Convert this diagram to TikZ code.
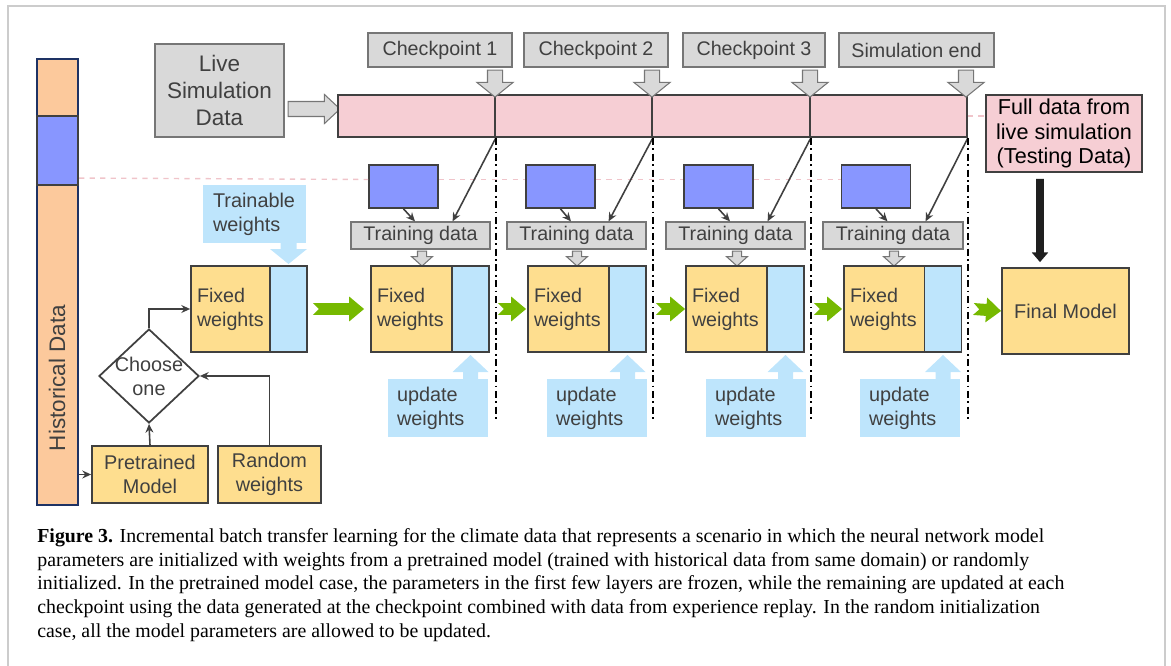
\documentclass[tikz,border=0pt]{standalone}
\usepackage{fontspec}
\setmainfont{Liberation Sans}
\newfontfamily\capfont{Liberation Serif}
\usetikzlibrary{shapes.geometric,shapes.arrows,arrows.meta}

\definecolor{txtgray}{RGB}{64,64,64}
\definecolor{boxfill}{RGB}{217,217,217}
\definecolor{boxline}{RGB}{118,118,118}
\definecolor{barpink}{RGB}{246,206,212}
\definecolor{historange}{RGB}{252,201,156}
\definecolor{histline}{RGB}{30,50,100}
\definecolor{datablue}{RGB}{136,150,255}
\definecolor{fixyellow}{RGB}{254,222,143}
\definecolor{trainblue}{RGB}{190,229,252}
\definecolor{arrgreen}{RGB}{118,185,0}
\definecolor{framegray}{RGB}{204,204,204}
\definecolor{dashpink}{RGB}{240,196,202}

\begin{document}
\begin{tikzpicture}[x=0.02cm,y=-0.02cm]
\tikzstyle{graybox}=[draw=boxline,fill=boxfill,line width=0.7pt,text=txtgray,inner sep=0,font=\fontsize{11.2}{13.6}\selectfont];
\tikzstyle{segbox}=[draw=txtgray,fill=barpink,line width=1pt,inner sep=0,minimum height=0.84cm];
\tikzstyle{datbox}=[draw=txtgray,fill=datablue,line width=1pt,inner sep=0,minimum width=1.38cm,minimum height=0.86cm];
\tikzstyle{fixbox}=[draw=txtgray,fill=fixyellow,line width=1pt,inner xsep=0.12cm,text width=1.38cm,minimum height=1.72cm,align=left,text=txtgray,font=\fontsize{11.2}{13.6}\selectfont];
\tikzstyle{trnbox}=[draw=txtgray,fill=trainblue,line width=1pt,inner sep=0,minimum width=0.74cm,minimum height=1.72cm];
\tikzstyle{yelbox}=[draw=txtgray,fill=fixyellow,line width=1pt,inner sep=0,align=center,text=txtgray,font=\fontsize{11.3}{14}\selectfont];
\tikzstyle{callout}=[fill=trainblue,inner xsep=0.18cm,text width=1.64cm,minimum height=1.16cm,align=left,text=txtgray,font=\fontsize{11.3}{13.8}\selectfont];
\tikzstyle{grayarr}=[single arrow,draw=boxline,fill=boxfill,line width=0.6pt,inner xsep=0];
\tikzstyle{conn}=[draw=txtgray,line width=0.9pt,-{Stealth[length=5pt,width=4.5pt]}];
\tikzstyle{cut}=[line width=1.2pt,dash pattern=on 4pt off 2pt on 1pt off 2pt];
\tikzstyle{greenarr}=[draw=arrgreen,line width=6.8pt,{Triangle Cap[reversed]}-{Triangle[length=8.5pt,width=13.6pt]}];
\tikzstyle{pinkdash}=[draw=dashpink,line width=0.8pt,dashed];
\tikzstyle{captxt}=[anchor=north west,inner sep=0,align=left,font=\capfont\fontsize{11.3}{13.5}\selectfont];

\useasboundingbox (0,0) rectangle (1171,666);
\draw [framegray,line width=1.1pt] (8,672) -- (8,6) -- (1165,6) -- (1165,672);

\node [draw=histline,fill=historange,line width=1pt,inner sep=0,minimum width=0.82cm,minimum height=8.92cm] (hist) at (57.5,282) {};
\node [draw=txtgray,fill=datablue,line width=1.2pt,inner sep=0,minimum width=0.82cm,minimum height=1.38cm] (histsel) at (57.5,150.5) {};
\node [rotate=90,text=txtgray,font=\fontsize{12.8}{15}\selectfont] (histtxt) at (57,378) {Historical Data};

\node [graybox,minimum width=2.58cm,minimum height=1.86cm,align=center,font=\fontsize{12.8}{15.3}\selectfont] (live) at (219.5,90.5) {Live\\Simulation\\Data};
\node [grayarr,inner ysep=0.14cm,minimum height=1.04cm,single arrow head extend=0.14cm,single arrow tip angle=86] (livearr) at (310,109) {};

\node [segbox,minimum width=3.14cm] (seg1) at (416.5,116) {};
\node [segbox,minimum width=3.14cm] (seg2) at (573.5,116) {};
\node [segbox,minimum width=3.16cm] (seg3) at (731,116) {};
\node [segbox,minimum width=3.14cm] (seg4) at (888.5,116) {};

\node [graybox,minimum width=2.88cm,minimum height=0.68cm] (cp1) at (440,50) {Checkpoint 1};
\node [graybox,minimum width=2.88cm,minimum height=0.68cm] (cp2) at (596,50) {Checkpoint 2};
\node [graybox,minimum width=2.84cm,minimum height=0.68cm] (cp3) at (754,50) {Checkpoint 3};
\node [graybox,minimum width=3.1cm,minimum height=0.68cm] (cp4) at (916.5,50) {Simulation end};

\node [grayarr,rotate=-90,inner ysep=0.14cm,minimum height=0.54cm,single arrow head extend=0.21cm,single arrow tip angle=102] (cparr1) at (495,80.5) {};
\node [grayarr,rotate=-90,inner ysep=0.14cm,minimum height=0.54cm,single arrow head extend=0.21cm,single arrow tip angle=102] (cparr2) at (652,80.5) {};
\node [grayarr,rotate=-90,inner ysep=0.14cm,minimum height=0.54cm,single arrow head extend=0.21cm,single arrow tip angle=102] (cparr3) at (810,80.5) {};
\node [grayarr,rotate=-90,inner ysep=0.14cm,minimum height=0.54cm,single arrow head extend=0.21cm,single arrow tip angle=102] (cparr4) at (966,80.5) {};

\node [draw=txtgray,fill=barpink,line width=1pt,inner sep=0,minimum width=3.12cm,minimum height=1.54cm,align=center,font=\fontsize{12.3}{13.9}\selectfont] (full) at (1064,133.5) {Full data from\\live simulation\\(Testing Data)};
\draw [pinkdash] (seg4.east) -- (seg4.east -| full.west);

\node [datbox] (dat1) at (403.5,186.5) {};
\node [datbox] (dat2) at (560.5,186.5) {};
\node [datbox] (dat3) at (718.5,186.5) {};
\node [datbox] (dat4) at (876,186.5) {};
\draw [pinkdash] ([yshift=0.16cm]histsel.south east) -- ([yshift=0.14cm]dat1.west);
\draw [pinkdash] ([yshift=0.14cm]dat1.east) -- ([yshift=0.14cm]dat2.west);
\draw [pinkdash] ([yshift=0.14cm]dat2.east) -- ([yshift=0.14cm]dat3.west);
\draw [pinkdash] ([yshift=0.14cm]dat3.east) -- ([yshift=0.14cm]dat4.west);

\node [graybox,minimum width=2.78cm,minimum height=0.54cm] (td1) at (420.5,235.5) {Training data};
\node [graybox,minimum width=2.78cm,minimum height=0.54cm] (td2) at (576.5,235.5) {Training data};
\node [graybox,minimum width=2.78cm,minimum height=0.54cm] (td3) at (735.5,235.5) {Training data};
\node [graybox,minimum width=2.8cm,minimum height=0.54cm] (td4) at (893,235.5) {Training data};

\draw [conn] (dat1.south) -- ([xshift=-0.11cm]td1.north);
\draw [conn] (dat2.south) -- ([xshift=-0.11cm]td2.north);
\draw [conn] (dat3.south) -- ([xshift=-0.11cm]td3.north);
\draw [conn] (dat4.south) -- ([xshift=-0.11cm]td4.north);
\draw [conn] (seg1.south east) -- ([xshift=-0.76cm]td1.north east);
\draw [conn] (seg2.south east) -- ([xshift=-0.76cm]td2.north east);
\draw [conn] (seg3.south east) -- ([xshift=-0.76cm]td3.north east);
\draw [conn] (seg4.south east) -- ([xshift=-0.76cm]td4.north east);

\draw [cut] (seg1.south east) -- ++(0,283);
\draw [cut] (seg2.south east) -- ++(0,283);
\draw [cut] (seg3.south east) -- ++(0,283);
\draw [cut] (seg4.south east) -- ++(0,283);

\node [grayarr,rotate=-90,inner ysep=0.08cm,minimum height=0.3cm,single arrow head extend=0.12cm,single arrow tip angle=96] (tdarr1) at (422,256.5) {};
\node [grayarr,rotate=-90,inner ysep=0.08cm,minimum height=0.3cm,single arrow head extend=0.12cm,single arrow tip angle=96] (tdarr2) at (577,256.5) {};
\node [grayarr,rotate=-90,inner ysep=0.08cm,minimum height=0.3cm,single arrow head extend=0.12cm,single arrow tip angle=96] (tdarr3) at (737,256.5) {};
\node [grayarr,rotate=-90,inner ysep=0.08cm,minimum height=0.3cm,single arrow head extend=0.12cm,single arrow tip angle=96] (tdarr4) at (894,256.5) {};

\node [fixbox,minimum width=1.58cm,text width=1.34cm] (fy1) at (230.5,309) {Fixed\\weights};
\node [trnbox] (wb1) at (288.5,309) {};
\node [fixbox] (fy2) at (411.5,309) {Fixed\\weights};
\node [trnbox] (wb2) at (470.5,309) {};
\node [fixbox] (fy3) at (568.5,309) {Fixed\\weights};
\node [trnbox] (wb3) at (627.5,309) {};
\node [fixbox] (fy4) at (726.5,309) {Fixed\\weights};
\node [trnbox] (wb4) at (785.5,309) {};
\node [fixbox] (fy5) at (884.5,309) {Fixed\\weights};
\node [trnbox] (wb5) at (943,309) {};
\node [yelbox,minimum width=2.54cm,minimum height=1.72cm] (fm) at (1065.5,311) {Final Model};

\draw [greenarr] ([xshift=0.1cm]wb1.east) -- ([xshift=-0.12cm]fy2.west);
\draw [greenarr] ([xshift=0.16cm]wb2.east) -- ([xshift=-0.02cm]fy3.west);
\draw [greenarr] ([xshift=0.18cm]wb3.east) -- (fy4.west);
\draw [greenarr] ([xshift=0.18cm]wb4.east) -- ([xshift=-0.02cm]fy5.west);
\draw [greenarr] ([xshift=0.22cm]wb5.east) -- (fm.west);

\draw [black!88,line width=4.5pt,-{Triangle[length=5.5pt,width=9pt]}] ([xshift=-0.48cm,yshift=-0.12cm]full.south) -- ([xshift=-0.51cm,yshift=0.1cm]fm.north);

\node [callout,inner xsep=0.2cm,text width=1.66cm] (trn) at (254.5,214) {Trainable\\weights};
\fill [trainblue] (280.5,242) -- (280.5,249) -- (270,249) -- (288.5,264) -- (307,249) -- (296.5,249) -- (296.5,242) -- cycle;

\node [callout] (up1) at (438,408) {update\\weights};
\node [callout] (up2) at (597,408) {update\\weights};
\node [callout] (up3) at (756,408) {update\\weights};
\node [callout] (up4) at (910,408) {update\\weights};
\fill [trainblue] (463,380) -- (463,372) -- (452.5,372) -- (470.5,355) -- (488.5,372) -- (478,372) -- (478,380) -- cycle;
\fill [trainblue] (620,380) -- (620,372) -- (609.5,372) -- (627.5,355) -- (645.5,372) -- (635,372) -- (635,380) -- cycle;
\fill [trainblue] (778,380) -- (778,372) -- (767.5,372) -- (785.5,355) -- (803.5,372) -- (793,372) -- (793,380) -- cycle;
\fill [trainblue] (935.5,380) -- (935.5,372) -- (925,372) -- (943,355) -- (961,372) -- (950.5,372) -- (950.5,380) -- cycle;

\node [draw=txtgray,line width=1pt,diamond,inner sep=0,minimum width=2cm,minimum height=1.88cm] (ch) at (149,376) {};
\node [text=txtgray,align=center,font=\fontsize{11.3}{13.6}\selectfont] (chtxt) at (ch) {Choose\\one};
\node [yelbox,minimum width=2.32cm,minimum height=1.14cm] (pre) at (150,474.5) {Pretrained\\Model};
\node [yelbox,minimum width=2.06cm,minimum height=1.14cm] (rnd) at (269.5,474.5) {Random\\weights};

\draw [conn] (hist.east |- pre.west) -- (pre.west);
\draw [conn] (pre.north) -- (ch.south);
\draw [conn] (rnd.north) |- (ch.east);
\draw [conn] (ch.north) |- (fy1.west);

\node [captxt] (cap) at (37,528) {\textbf{Figure 3.} Incremental batch transfer learning for the climate data that represents a scenario in which the neural network model\\
parameters are initialized with weights from a pretrained model (trained with historical data from same domain) or randomly\\
initialized. In the pretrained model case, the parameters in the first few layers are frozen, while the remaining are updated at each\\
checkpoint using the data generated at the checkpoint combined with data from experience replay. In the random initialization\\
case, all the model parameters are allowed to be updated.};
\end{tikzpicture}
\end{document}
